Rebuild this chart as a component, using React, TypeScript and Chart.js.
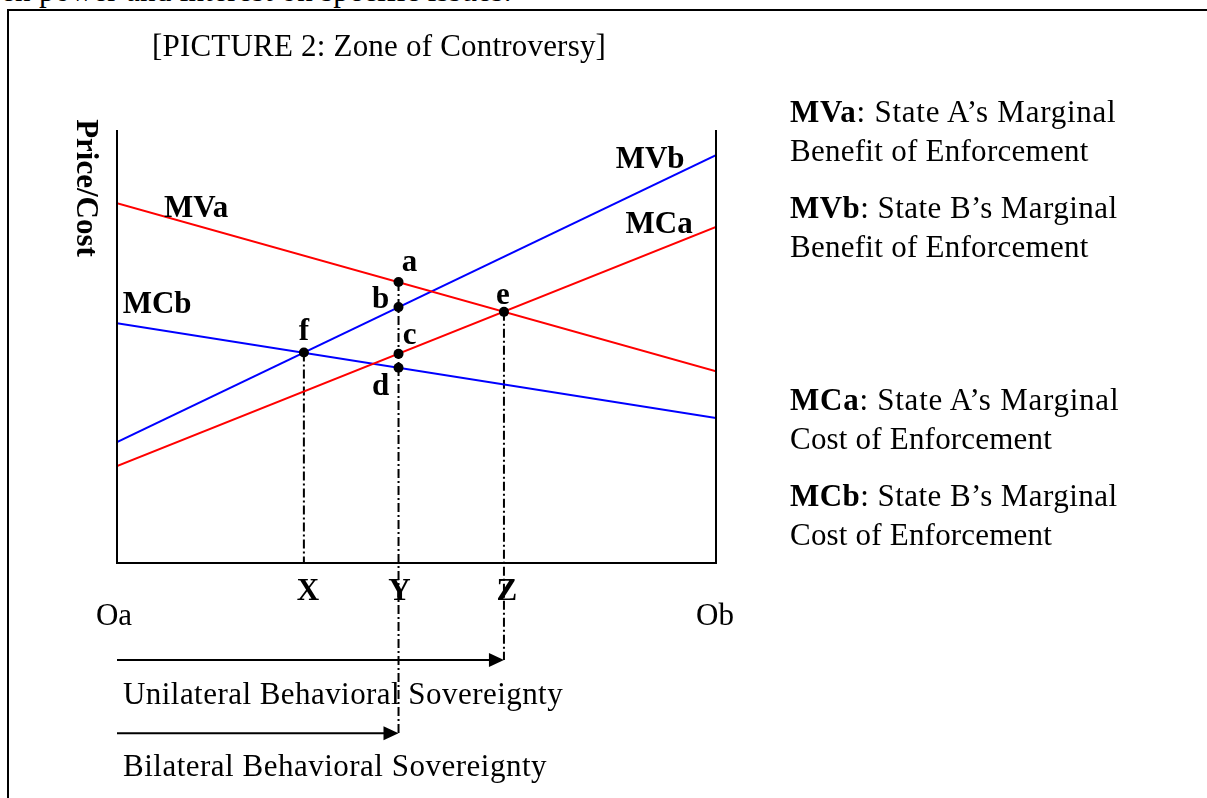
import React, { useEffect, useRef } from "react";
import { Chart, registerables } from "chart.js";

Chart.register(...registerables);

// ---- data (diagram units: x 0..100 from Oa to Ob, y 0..100 price/cost) ----
const mvaX = [0, 100];
const mvaY = [83.1, 44.3];
const mvbX = [0, 100];
const mvbY = [27.9, 94.2];
const mcaX = [0, 100];
const mcaY = [22.4, 77.6];
const mcbX = [0, 100];
const mcbY = [55.4, 33.5];

const pointNames = ["a", "b", "c", "d", "e", "f"];
const pointX = [47, 47, 47, 47, 64.6, 31.2];
const pointY = [64.9, 59.1, 48.3, 45.1, 58.0, 48.6];

const levelNames = ["X", "Y", "Z"];
const levelX = [31.2, 47, 64.6];
const levelTopY = [48.6, 64.9, 58.0];
const levelBottomY = [0, -39.7, -22.4];

const arrowStartX = [0, 0];
const arrowEndX = [64.6, 47];
const arrowY = [-22.4, -39.3];

const endNames = ["Oa", "Ob"];
const endX = [0, 100];

const curveNames = ["MVa", "MVb", "MCa", "MCb"];
const curveLabelX = [13.2, 89.0, 90.5, 6.7];
const curveLabelY = [79.9, 91.2, 76.2, 57.7];

// ---- layout / style ----
const W = 1207;
const H = 798;
const AREA = { left: 117, right: 716, top: 130, bottom: 563 };
const SERIF = "'Liberation Serif', 'Times New Roman', serif";
const FS = 31;
const RED = "#ff0000";
const BLUE = "#0000ff";
const pointLabelOffset: Record<string, [number, number]> = {
  a: [11, -11],
  b: [-18, 1],
  c: [11, -10],
  d: [-18, 27],
  e: [-1, -8],
  f: [0, -13],
};
const levelLabelDx = [4, 1, 3];

const pts = (xs: number[], ys: number[]) => xs.map((x, i) => ({ x, y: ys[i] }));

const annotPlugin = {
  id: "annot",
  afterDatasetsDraw(chart: any) {
    const { ctx, chartArea, scales } = chart;
    const xs = scales.x;
    const ys = scales.y;
    ctx.save();
    // box: left, bottom, right
    ctx.strokeStyle = "#000";
    ctx.lineWidth = 2;
    ctx.beginPath();
    ctx.moveTo(chartArea.left, chartArea.top);
    ctx.lineTo(chartArea.left, chartArea.bottom);
    ctx.lineTo(chartArea.right, chartArea.bottom);
    ctx.lineTo(chartArea.right, chartArea.top);
    ctx.stroke();

    // arrowheads
    ctx.fillStyle = "#000";
    arrowEndX.forEach((ex, i) => {
      const px = xs.getPixelForValue(ex);
      const py = ys.getPixelForValue(arrowY[i]);
      ctx.beginPath();
      ctx.moveTo(px, py);
      ctx.lineTo(px - 15, py - 7);
      ctx.lineTo(px - 15, py + 7);
      ctx.closePath();
      ctx.fill();
    });

    ctx.fillStyle = "#000";
    ctx.textBaseline = "alphabetic";
    ctx.textAlign = "center";
    ctx.font = `bold ${FS}px ${SERIF}`;
    // curve labels
    curveNames.forEach((n, i) => {
      ctx.fillText(n, xs.getPixelForValue(curveLabelX[i]), ys.getPixelForValue(curveLabelY[i]));
    });
    // point labels
    pointNames.forEach((n, i) => {
      const [dx, dy] = pointLabelOffset[n];
      ctx.fillText(n, xs.getPixelForValue(pointX[i]) + dx, ys.getPixelForValue(pointY[i]) + dy);
    });
    // X Y Z
    levelNames.forEach((n, i) => {
      ctx.fillText(n, xs.getPixelForValue(levelX[i]) + levelLabelDx[i], chartArea.bottom + 37);
    });
    // Oa Ob
    ctx.font = `${FS}px ${SERIF}`;
    ctx.fillText(endNames[0], xs.getPixelForValue(endX[0]) - 3, chartArea.bottom + 62);
    ctx.fillText(endNames[1], xs.getPixelForValue(endX[1]) - 1, chartArea.bottom + 62);

    // y axis title
    ctx.font = `bold ${FS}px ${SERIF}`;
    ctx.translate(chartArea.left - 40, chartArea.top + 58);
    ctx.rotate(Math.PI / 2);
    ctx.fillText("Price/Cost", 0, 0);
    ctx.restore();
  },
};

function Txt({ x, y, ls = 0, children }: { x: number; y: number; ls?: number; children: React.ReactNode }) {
  return (
    <div
      style={{
        position: "absolute",
        left: x,
        top: y - 26,
        fontFamily: SERIF,
        fontSize: FS,
        lineHeight: `${FS}px`,
        letterSpacing: `${ls}px`,
        whiteSpace: "nowrap",
        color: "#000",
      }}
    >
      {children}
    </div>
  );
}

export default function App() {
  const ref = useRef<HTMLCanvasElement | null>(null);
  useEffect(() => {
    if (!ref.current) return;
    const lineDs = (label: string, xs: number[], ys: number[], color: string) => ({
      label,
      data: pts(xs, ys),
      showLine: true,
      borderColor: color,
      backgroundColor: color,
      borderWidth: 2,
      pointRadius: 0,
      order: 3,
    });
    const datasets: any[] = [
      lineDs("MVa", mvaX, mvaY, RED),
      lineDs("MVb", mvbX, mvbY, BLUE),
      lineDs("MCa", mcaX, mcaY, RED),
      lineDs("MCb", mcbX, mcbY, BLUE),
      ...levelNames.map((n, i) => ({
        label: n,
        data: [
          { x: levelX[i], y: levelTopY[i] },
          { x: levelX[i], y: levelBottomY[i] },
        ],
        showLine: true,
        borderColor: "#000",
        borderWidth: 2,
        borderDash: [9, 3, 2, 3],
        pointRadius: 0,
        clip: false,
        order: 4,
      })),
      ...arrowEndX.map((ex, i) => ({
        label: "arrow" + i,
        data: [
          { x: arrowStartX[i], y: arrowY[i] },
          { x: ex - 1, y: arrowY[i] },
        ],
        showLine: true,
        borderColor: "#000",
        borderWidth: 2,
        pointRadius: 0,
        clip: false,
        order: 2,
      })),
      {
        label: "points",
        data: pts(pointX, pointY),
        showLine: false,
        pointRadius: 5,
        pointBackgroundColor: "#000",
        pointBorderColor: "#000",
        pointBorderWidth: 0,
        clip: false,
        order: 0,
      },
    ];
    const chart = new Chart(ref.current, {
      type: "scatter",
      data: { datasets },
      options: {
        animation: false,
        responsive: false,
        devicePixelRatio: 1,
        events: [],
        layout: {
          padding: {
            left: AREA.left,
            right: W - AREA.right,
            top: AREA.top,
            bottom: H - AREA.bottom,
          },
        },
        scales: {
          x: { type: "linear", min: 0, max: 100, display: false },
          y: { type: "linear", min: 0, max: 100, display: false },
        },
        plugins: { legend: { display: false }, tooltip: { enabled: false }, title: { display: false } },
      },
      plugins: [annotPlugin],
    });
    return () => chart.destroy();
  }, []);

  return (
    <div style={{ position: "absolute", left: 0, top: 0, width: W, height: H, overflow: "hidden", background: "#fff" }}>
      <Txt x={1} y={1} ls={0.3}>en power and interest on specific issues.</Txt>
      <div
        style={{
          position: "absolute",
          left: 7,
          top: 9,
          width: W,
          height: H,
          borderTop: "2px solid #000",
          borderLeft: "2px solid #000",
          background: "transparent",
        }}
      />
      <canvas ref={ref} width={W} height={H} style={{ position: "absolute", left: 0, top: 0, width: W, height: H }} />
      <Txt x={152} y={56} ls={0.2}>[PICTURE 2: Zone of Controversy]</Txt>
      <Txt x={790} y={122} ls={0.75}><b>MVa</b>: State A’s Marginal</Txt>
      <Txt x={790} y={161} ls={0.27}>Benefit of Enforcement</Txt>
      <Txt x={790} y={218} ls={0.45}><b>MVb</b>: State B’s Marginal</Txt>
      <Txt x={790} y={257} ls={0.27}>Benefit of Enforcement</Txt>
      <Txt x={790} y={410} ls={0.75}><b>MCa</b>: State A’s Marginal</Txt>
      <Txt x={790} y={449} ls={0.2}>Cost of Enforcement</Txt>
      <Txt x={790} y={506} ls={0.45}><b>MCb</b>: State B’s Marginal</Txt>
      <Txt x={790} y={545} ls={0.2}>Cost of Enforcement</Txt>
      <Txt x={123} y={704} ls={0.45}>Unilateral Behavioral Sovereignty</Txt>
      <Txt x={123} y={776} ls={0.5}>Bilateral Behavioral Sovereignty</Txt>
    </div>
  );
}
